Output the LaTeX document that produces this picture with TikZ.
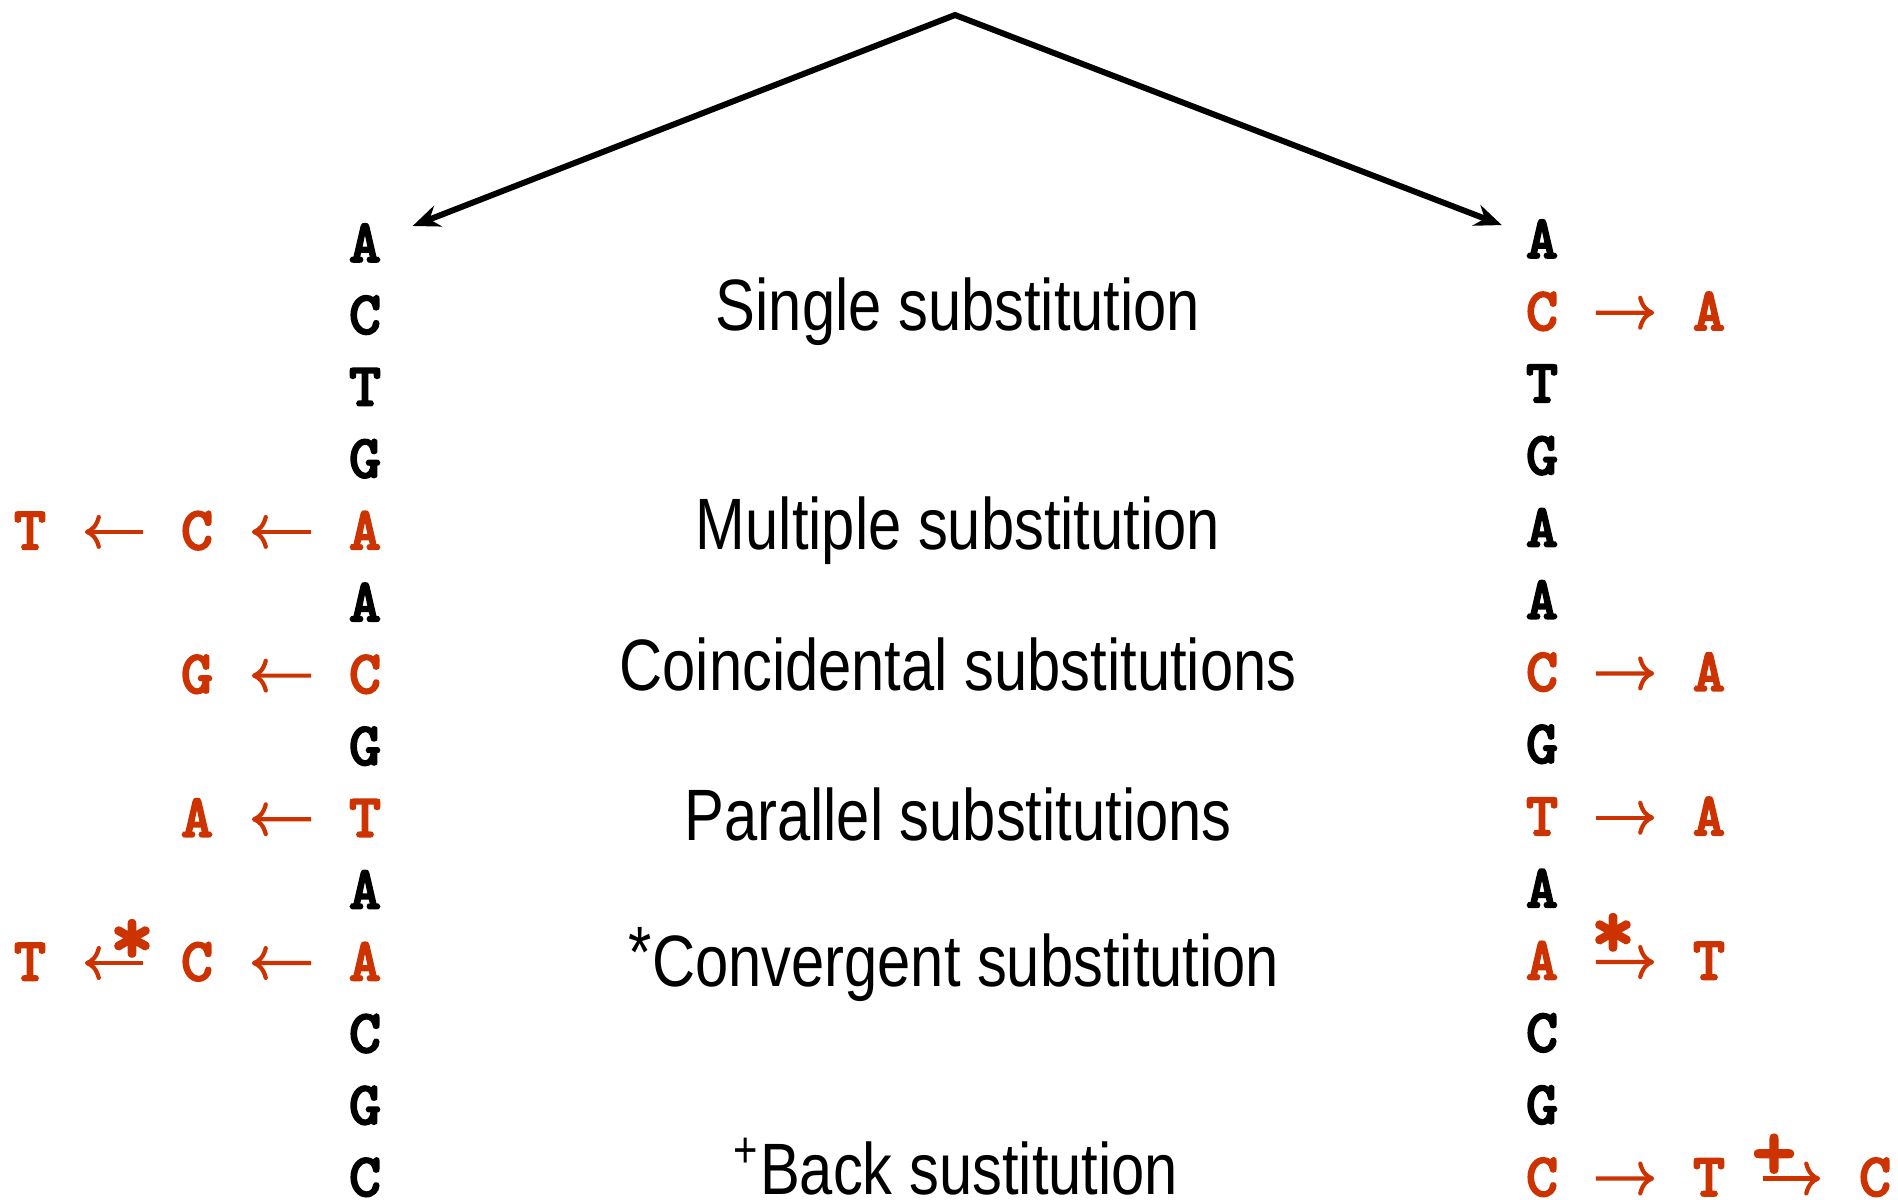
\documentclass[tikz,border=0pt]{standalone}
\usepackage{fontspec}
\usetikzlibrary{arrows.meta}
\setmainfont{Liberation Sans}
\newfontfamily\labfont[FakeStretch=0.82]{Liberation Sans}
\newfontfamily\nucfont[FakeBold=2.5]{lmmonolt10-bold.otf}
\definecolor{mutred}{RGB}{204,51,0}

\begin{document}
\begin{tikzpicture}[x=0.01cm,y=-0.01cm,
            >={Stealth[length=0.27cm,width=0.22cm]},
            nuc/.style={font=\nucfont\fontsize{17.5}{18}\selectfont, inner sep=0pt, text height=0.35cm, text depth=0pt, anchor=base},
            mut/.style={nuc, text=mutred},
            tag/.style={font=\nucfont\fontsize{24}{24}\selectfont, text=mutred, inner sep=0pt},
            sublabel/.style={font=\labfont\fontsize{20.7}{24}\selectfont, inner sep=0pt, anchor=base},
            subarr/.style={draw=mutred, line width=1.2pt, -{Computer Modern Rightarrow[length=0.16cm,width=0.34cm]}, shorten <=0.37cm, shorten >=0.38cm},
        ]
    \useasboundingbox (0,0) rectangle (1898,1199);

    % ancestral sequence splits into two lineages
    \foreach \b/\c [count=\i] in {A/black,C/black,T/black,G/black,A/mutred,A/black,C/mutred,G/black,T/mutred,A/black,A/mutred,C/black,G/black,C/black}
        \node[nuc,text=\c] (L\i) at (365,{262+71.85*(\i-1)}) {\b};
    \foreach \b/\c [count=\i] in {A/black,C/mutred,T/black,G/black,A/black,A/black,C/mutred,G/black,T/mutred,A/black,A/mutred,C/black,G/black,C/mutred}
        \node[nuc,text=\c] (R\i) at (1542,{258+72.15*(\i-1)}) {\b};

    \coordinate (top) at (955,15);
    \draw[line width=1.7pt,<->,shorten <=0.33cm,shorten >=0.25cm] (L1) -- (top) -- (R1);

    % left lineage
    \node[mut] (L5a) at (197,549.4) {C};
    \node[mut] (L5b) at (30,549.4) {T};
    \node[mut] (L7a) at (197,693.1) {G};
    \node[mut] (L9a) at (197,836.8) {A};
    \node[mut] (L11a) at (197,980.5) {C};
    \node[mut] (L11b) at (30,980.5) {T};
    \draw[subarr] (L5) -- (L5a);
    \draw[subarr] (L5a) -- (L5b);
    \draw[subarr] (L7) -- (L7a);
    \draw[subarr] (L9) -- (L9a);
    \draw[subarr] (L11) -- (L11a);
    \draw[subarr] (L11a) -- (L11b);
    \node[tag] (astL) at (132,942) {*};

    % right lineage
    \node[mut] (R2a) at (1709,330.2) {A};
    \node[mut] (R7a) at (1709,690.9) {A};
    \node[mut] (R9a) at (1709,835.2) {A};
    \node[mut] (R11a) at (1709,979.5) {T};
    \node[mut] (R14a) at (1709,1196) {T};
    \node[mut] (R14b) at (1875,1196) {C};
    \draw[subarr] (R2) -- (R2a);
    \draw[subarr] (R7) -- (R7a);
    \draw[subarr] (R9) -- (R9a);
    \draw[subarr] (R11) -- (R11a);
    \draw[subarr] (R14) -- (R14a);
    \draw[subarr] (R14a) -- (R14b);
    \node[tag] (astR) at (1613,936) {*};
    \node[tag] (plusR) at (1774,1157) {+};

    % kinds of substitution
    \node[sublabel] (single) at (958,330) {Single substitution};
    \node[sublabel] (multiple) at (958,549) {Multiple substitution};
    \node[sublabel] (coincid) at (958,690) {Coincidental substitutions};
    \node[sublabel] (parallel) at (958,840) {Parallel substitutions};
    \node[sublabel] (converg) at (954,986) {\raisebox{0.12em}{*}Convergent substitution};
    \node[sublabel] (back) at (956,1194) {\textsuperscript{+}Back sustitution};
\end{tikzpicture}
\end{document}
